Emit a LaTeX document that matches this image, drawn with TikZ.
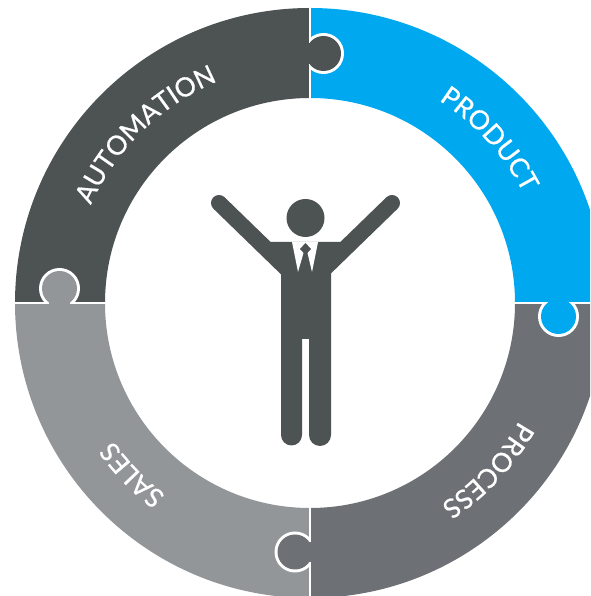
\documentclass[tikz,border=0pt]{standalone}
\usepackage{fontspec}
\newfontfamily\ringfont[FakeBold=0.7]{Lato}
\usetikzlibrary{decorations.text}
\definecolor{ringdark}{HTML}{4D5252}
\definecolor{ringblue}{HTML}{00A8F0}
\definecolor{ringmid}{HTML}{6D7175}
\definecolor{ringlight}{HTML}{929699}
\tikzstyle{tabring}=[fill=white, draw=none]
\tikzstyle{sep}=[white, line width=2.2pt]
\tikzstyle{ringlabel}=[decorate]
\newcommand{\ringtext}[1]{|\ringfont\fontsize{26.5}{26.5}\selectfont\color{white}|#1}
% colour, centre of tab, side it lies on (two corners), neck (two corners)
\newcommand{\puzzletab}[6]{
  \begin{scope}
    \clip #3 rectangle #4;
    \fill [tabring] (#2) circle (20.5pt);
    \fill [#1] (#2) circle (17.5pt);
  \end{scope}
  \fill [#1] #5 rectangle #6;
}

\begin{document}
\begin{tikzpicture}[x=1pt, y=1pt]
  \useasboundingbox (0,0) rectangle (590,596);
  \clip (0,0) rectangle (590,596);

  % Ring
  \begin{scope}[shift={(310,293)}]
    \fill [ringdark] (90:295pt) arc (90:180:295pt) -- (180:205pt) arc (180:90:205pt) -- cycle;
    \fill [ringblue] (0:295pt) arc (0:90:295pt) -- (90:205pt) arc (90:0:205pt) -- cycle;
    \fill [ringmid] (-90:295pt) arc (-90:0:295pt) -- (0:205pt) arc (0:-90:205pt) -- cycle;
    \fill [ringlight] (180:295pt) arc (180:270:295pt) -- (270:205pt) arc (270:180:205pt) -- cycle;

    % Separators
    \draw [sep] (90:204pt) -- (90:296pt);
    \draw [sep] (0:204pt) -- (0:296pt);
    \draw [sep] (-90:204pt) -- (-90:296pt);
    \draw [sep] (180:204pt) -- (180:296pt);

    % Labels
    \path [ringlabel, decoration={text along path, text align=center, text={\ringtext{AUTOMATION}}}] (179.3:240pt) arc (179.3:89.3:240pt);
    \path [ringlabel, decoration={text along path, text align=center, text={\ringtext{PRODUCT}}}] (87.4:240pt) arc (87.4:-2.6:240pt);
    \path [ringlabel, decoration={text along path, text align=center, text={\ringtext{PROCESS}}}] (1.8:240pt) arc (1.8:-88.2:240pt);
    \path [ringlabel, decoration={text along path, text align=center, text={\ringtext{SALES}}}] (269:240pt) arc (269:179:240pt);
  \end{scope}

  % Tabs
  \coordinate (tabtop) at (323.5,542.5);
  \coordinate (tabright) at (558.5,279.5);
  \coordinate (tableft) at (59.5,307.5);
  \coordinate (tabbottom) at (295,44);
  \puzzletab{ringdark}{tabtop}{(310,500)}{(360,590)}{(308,532)}{(312,553)}
  \puzzletab{ringblue}{tabright}{(520,250)}{(590,293)}{(548,291)}{(569,295)}
  \puzzletab{ringlight}{tableft}{(20,293)}{(100,340)}{(49,291)}{(70,295)}
  \puzzletab{ringmid}{tabbottom}{(260,0)}{(310,80)}{(308,34)}{(312,54)}

  % Person
  \fill [ringdark] (305.5,378) circle (19pt);
  \draw [ringdark, line width=16pt, line cap=round] (219,393) -- (288,326);
  \draw [ringdark, line width=16pt, line cap=round] (392,393) -- (323,326);
  \fill [ringdark] (270,354) -- (342,354) -- (331,323) -- (331,161)
    arc (0:-180:11pt) -- (309,257) -- (302,257) -- (302,161)
    arc (0:-180:10.5pt) -- (281,323) -- cycle;
  \fill [white] (292,354) -- (318,354) -- (312,324) -- (307.5,343) -- (303.5,343) -- (298,324) -- cycle;
  \fill [ringdark] (305.5,353) -- (311,347) -- (305.5,341) -- (300,347) -- cycle;
\end{tikzpicture}
\end{document}
